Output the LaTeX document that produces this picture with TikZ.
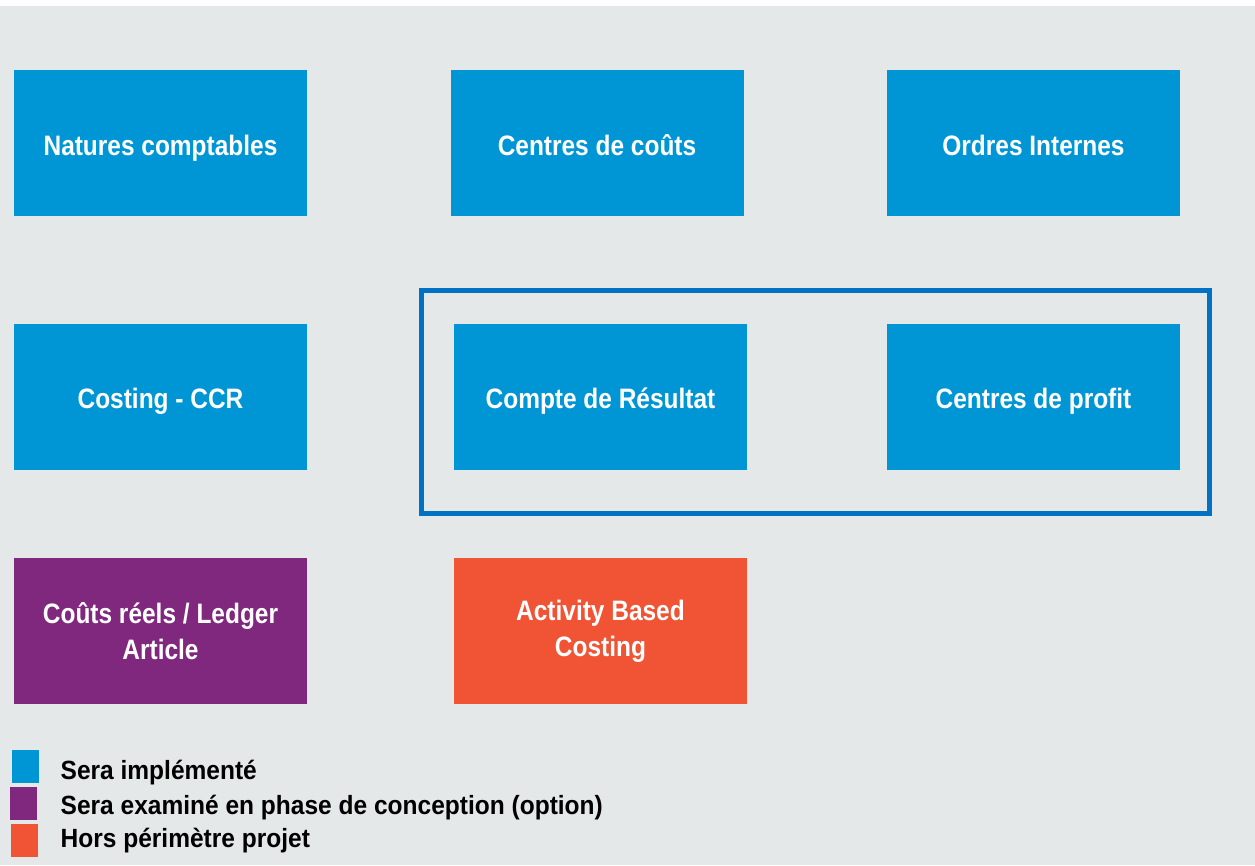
\documentclass[tikz,border=0pt]{standalone}
\usepackage{fontspec}
\setmainfont{Liberation Sans}[FakeStretch=0.87]
\newfontfamily\legendfont{Liberation Sans}[FakeStretch=0.93]
\usetikzlibrary{positioning}
\definecolor{fondgris}{RGB}{228,232,233}
\definecolor{bleuimpl}{RGB}{0,150,214}
\definecolor{bleucadre}{RGB}{0,114,198}
\definecolor{violetopt}{RGB}{128,40,125}
\definecolor{orangehors}{RGB}{240,84,52}

\begin{document}
\begin{tikzpicture}
\tikzset{
    box/.style={
        minimum width=2.93cm, minimum height=1.46cm,
        inner sep=0pt, text=white,
        font=\fontsize{8}{10.2}\selectfont\bfseries
    },
    oneline/.style={text height=0.24cm, text depth=0pt},
    legendbox/.style={minimum width=0.27cm, minimum height=0.33cm, inner sep=0pt},
    legendtext/.style={anchor=base west, inner sep=0pt, font=\legendfont\fontsize{7.5}{8.5}\selectfont\bfseries}
}

    \useasboundingbox (0,0) rectangle (12.55,8.65);
    \fill[white] (0,0) rectangle (12.55,8.65);
    \fill[fondgris] (0,0) rectangle (12.55,8.59);

  % ligne du haut
        \node[box, oneline, fill=bleuimpl] (NC) at (1.605,7.22) {Natures comptables};
        \node[box, oneline, fill=bleuimpl] (CC) at (5.97,7.22) {Centres de coûts};
        \node[box, oneline, fill=bleuimpl] (OI) at (10.335,7.22) {Ordres Internes};

  % ligne du milieu
        \node[box, oneline, fill=bleuimpl] (CCR) at (1.605,4.685) {Costing - CCR};
        \node[box, oneline, fill=bleuimpl] (CR) at (6.005,4.685) {Compte de Résultat};
        \node[box, oneline, fill=bleuimpl] (CP) at (10.335,4.685) {Centres de profit};
        \coordinate (F1) at (4.215,3.515);
        \coordinate (F2) at (12.095,5.745);
        \draw[bleucadre, line width=1.2pt] (F1) rectangle (F2);

  % ligne du bas
        \node[box, align=center, fill=violetopt] (CR2) at (1.605,2.34) {Coûts réels / Ledger\\Article};
        \node[box, align=center, fill=orangehors] (ABC) at (6.005,2.34) {Activity Based\\Costing};

  % legende
        \node[legendbox, fill=bleuimpl] (L1) at (0.255,0.985) {};
        \node[legendbox, fill=violetopt] (L2) at (0.235,0.615) {};
        \node[legendbox, fill=orangehors] (L3) at (0.245,0.245) {};
        \node[legendtext] (T1) at (0.60,0.86) {Sera implémenté};
        \node[legendtext] (T2) at (0.60,0.51) {Sera examiné en phase de conception (option)};
        \node[legendtext] (T3) at (0.60,0.18) {Hors périmètre projet};

\end{tikzpicture}
\end{document}
